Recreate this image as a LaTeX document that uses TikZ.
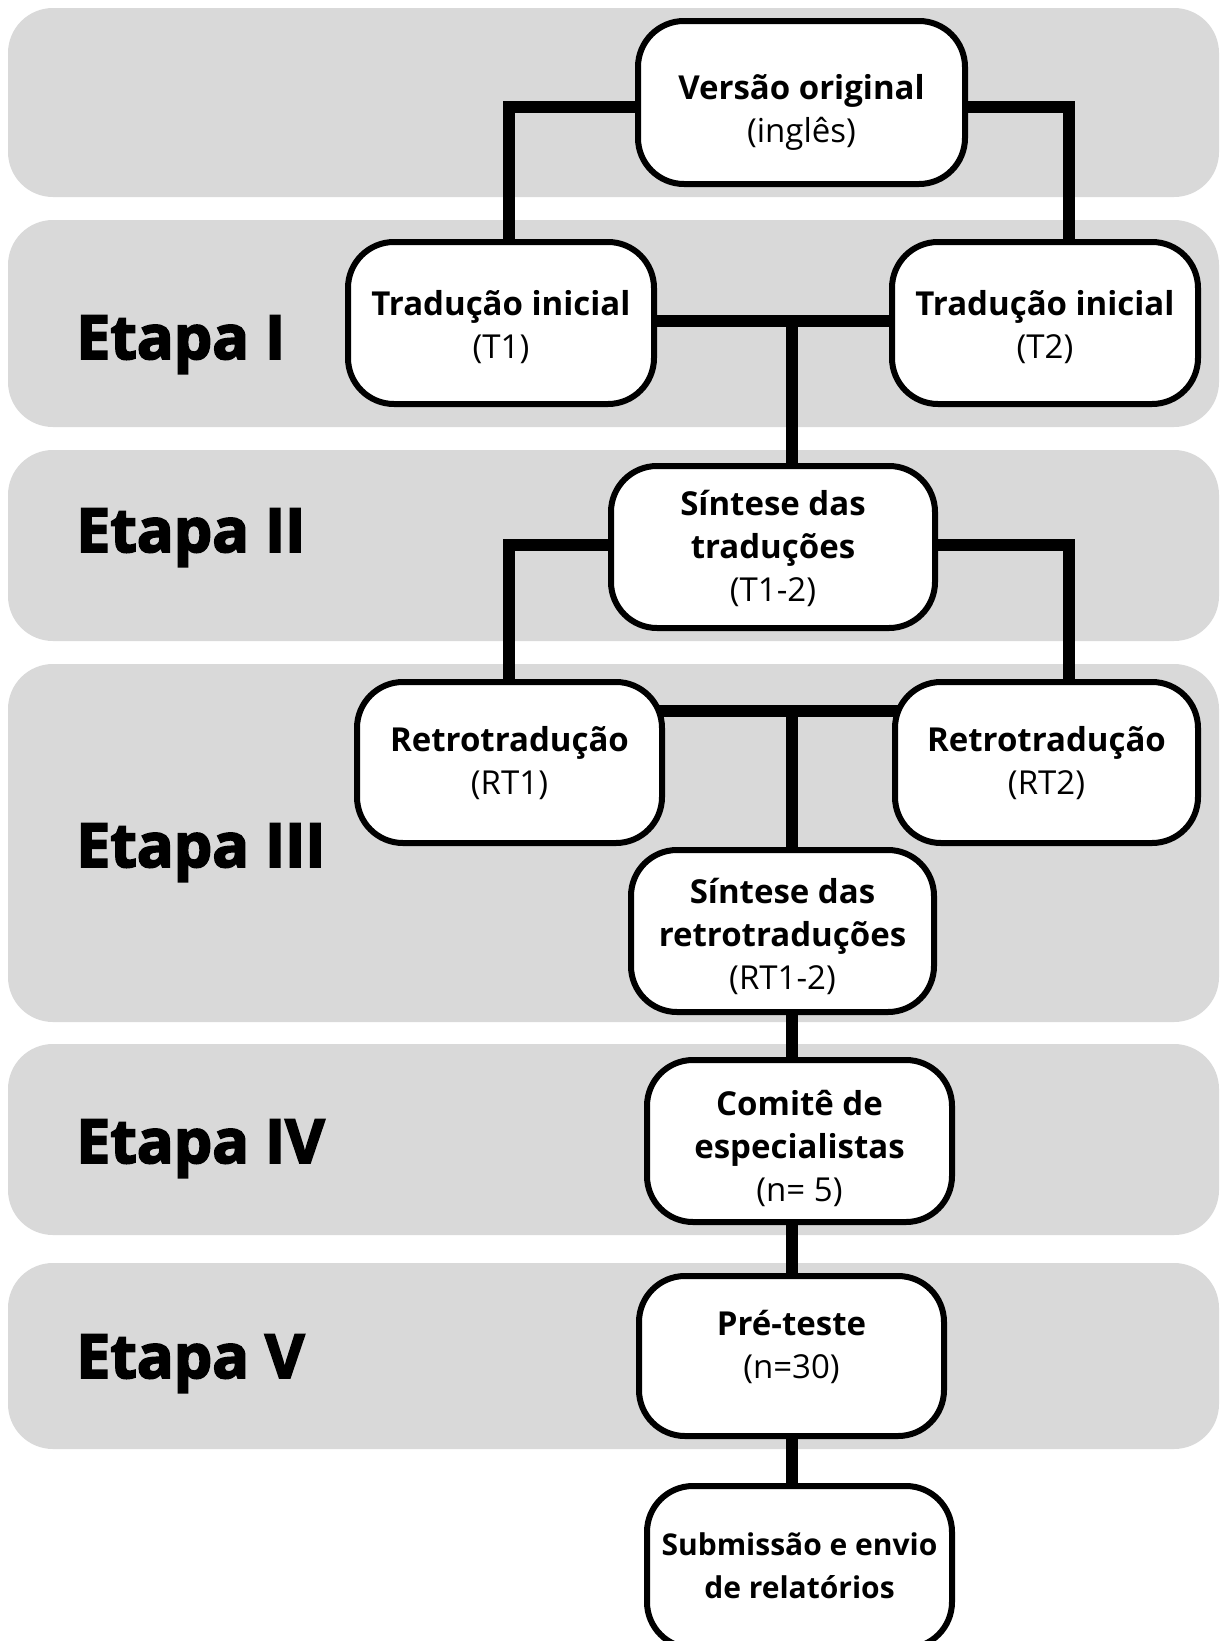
\documentclass[tikz,border=0pt]{standalone}
\usepackage{fontspec}
\setmainfont{Open Sans}
\newfontfamily\heavyfont{Open Sans}[BoldFeatures={FakeBold=3}]
\usetikzlibrary{backgrounds}
\definecolor{bandgray}{HTML}{D9D9D9}
\newcommand\boxtext[2]{\raisebox{#1}[\height][\depth]{\begin{tabular}{@{}c@{}}#2\end{tabular}}}
\tikzset{
  band/.style={fill=bandgray, draw=none, rounded corners=45pt},
  box/.style={draw=black, fill=white, line width=6pt, rounded corners=46pt,
    inner sep=0pt,
    font=\fontsize{33}{43}\selectfont},
  conn/.style={draw=black, line width=11.5pt},
  etapa/.style={font=\heavyfont\bfseries\fontsize{61}{70}\selectfont, inner sep=0pt}
}
\begin{document}
\begin{tikzpicture}[x=1pt,y=-1pt]
\useasboundingbox (0,0) rectangle (1221,1641);
\begin{scope}[on background layer]
\fill[white] (0,0) rectangle (1221,1641);
\path[band] (8,8) rectangle (1219,197);
\path[band] (8,220) rectangle (1219,427);
\path[band] (8,450) rectangle (1219,641);
\path[band] (8,664) rectangle (1219,1022);
\path[band] (8,1044) rectangle (1219,1235);
\path[band] (8,1263) rectangle (1219,1449);
\end{scope}

\node[etapa, anchor=base west] (e1) at (76,359) {Etapa I};
\node[etapa, anchor=base west] (e2) at (76,552) {Etapa II};
\node[etapa, anchor=base west] (e3) at (76,867) {Etapa III};
\node[etapa, anchor=base west] (e4) at (76,1163) {Etapa IV};
\node[etapa, anchor=base west] (e5) at (76,1378) {Etapa V};

\node[box, minimum width=327pt, minimum height=163pt] (VO) at (801.5,102.5)
  {\boxtext{-10pt}{\textbf{Versão original}\\(inglês)}};
\node[box, minimum width=306pt, minimum height=162pt] (T1) at (501,323)
  {\boxtext{-5pt}{\textbf{Tradução inicial}\\(T1)}};
\node[box, minimum width=306pt, minimum height=162pt] (T2) at (1045,323)
  {\boxtext{-5pt}{\textbf{Tradução inicial}\\(T2)}};
\node[box, minimum width=324pt, minimum height=162pt] (ST) at (773,547)
  {\boxtext{-3pt}{\textbf{Síntese das}\\\textbf{traduções}\\(T1-2)}};
\node[box, minimum width=305pt, minimum height=161pt] (RT1) at (509.5,762.5)
  {\boxtext{-2pt}{\textbf{Retrotradução}\\(RT1)}};
\node[box, minimum width=303pt, minimum height=161pt] (RT2) at (1046.5,762.5)
  {\boxtext{-2pt}{\textbf{Retrotradução}\\(RT2)}};
\node[box, minimum width=303pt, minimum height=162pt] (SRT) at (782.5,931)
  {\boxtext{-7pt}{\textbf{Síntese das}\\\textbf{retrotraduções}\\(RT1-2)}};
\node[box, minimum width=305pt, minimum height=162pt] (CE) at (799.5,1141)
  {\boxtext{-9pt}{\textbf{Comitê de}\\\textbf{especialistas}\\(n= 5)}};
\node[box, minimum width=305pt, minimum height=160pt] (PT) at (791.5,1356)
  {\boxtext{8pt}{\textbf{Pré-teste}\\(n=30)}};
\node[box, minimum width=305pt, minimum height=162pt, font=\fontsize{30}{43}\selectfont] (SUB) at (799.5,1567)
  {\boxtext{-1pt}{\textbf{Submissão e envio}\\\textbf{de relatórios}}};

\coordinate (j0L) at (509,107);
\coordinate (j0R) at (1069,107);
\coordinate (j1) at (792,321);
\coordinate (j2L) at (509,545);
\coordinate (j2R) at (1069,545);
\coordinate (j3) at (792,711);

\begin{scope}[on background layer]
\draw[conn] (VO.center |- j0L) -| (T1.center -| j0L);
\draw[conn] (VO.center |- j0R) -| (T2.center -| j0R);
\draw[conn] (T1.center |- j1) -- (T2.center |- j1);
\draw[conn] (j1) -- (ST.center -| j1);
\draw[conn] (ST.center |- j2L) -| (RT1.center -| j2L);
\draw[conn] (ST.center |- j2R) -| (RT2.center -| j2R);
\draw[conn] (RT1.center |- j3) -- (RT2.center |- j3);
\draw[conn] (j3) -- (SRT.center -| j3);
\draw[conn] (SRT.center -| j3) -- (CE.center -| j3);
\draw[conn] (CE.center -| j3) -- (PT.center -| j3);
\draw[conn] (PT.center -| j3) -- (SUB.center -| j3);
\end{scope}
\end{tikzpicture}
\end{document}
